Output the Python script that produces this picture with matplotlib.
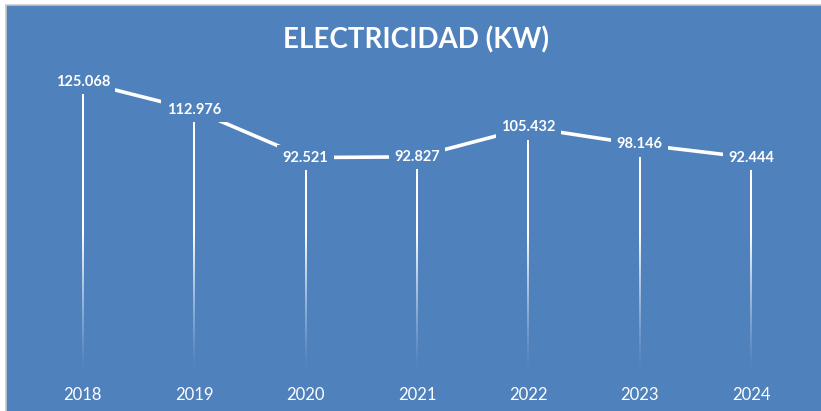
import numpy as np
import matplotlib.pyplot as plt
from matplotlib.patches import Rectangle

years = ['2018', '2019', '2020', '2021', '2022', '2023', '2024']
consumo = [125.068, 112.976, 92.521, 92.827, 105.432, 98.146, 92.444]
etiquetas = ['125.068', '112.976', '92.521', '92.827', '105.432', '98.146', '92.444']

azul = '#4F81BD'
plt.rcParams['font.family'] = ['Lato', 'DejaVu Sans']

fig = plt.figure(figsize=(8.21, 4.11), dpi=100, facecolor='white')
# fondo azul del area del grafico (con borde gris arriba/izq)
fig.patches.append(Rectangle((5.5/821, -0.01), 1.0, (411-5.5)/411 + 0.01,
                             transform=fig.transFigure, facecolor=azul,
                             edgecolor='#C8C8C8', linewidth=1.2, zorder=-5))

ax = fig.add_axes([27/821, 38/411, 780/821, 326/411])
ax.set_facecolor('none')
ax.set_zorder(1)
x = np.arange(len(years))

# lineas de caida con degradado (blanco -> transparente abajo)
w = 0.0085
for xi, v in zip(x, consumo):
    ys = np.linspace(v, 0, 300)
    grad = np.ones((300, 1, 4))
    grad[:, 0, 3] = np.clip(ys / 60.0, 0, 1) ** 1.3
    ax.imshow(grad, extent=(xi - w, xi + w, 0, v), aspect='auto',
              interpolation='bilinear', zorder=1)

ax.plot(x, consumo, color='white', linewidth=2.6, solid_capstyle='butt', zorder=2)

for xi, v, t in zip(x, consumo, etiquetas):
    ax.text(xi, v, t, ha='center', va='center', color='white', fontsize=10.5,
            fontweight='bold', zorder=3,
            bbox=dict(facecolor=azul, edgecolor='none', pad=4))

ax.set_xlim(-0.5, 6.5)
ax.set_ylim(0, 140)
ax.set_xticks(x)
ax.set_xticklabels(years, color='white', fontsize=12)
ax.tick_params(axis='x', length=0, pad=10)
ax.set_yticks([])
for s in ax.spines.values():
    s.set_visible(False)

fig.text(416/821, 1 - 40/411, 'ELECTRICIDAD (KW)', ha='center', va='center',
         color='white', fontsize=20, fontweight='bold')

plt.savefig('out.png', dpi=100, facecolor=fig.get_facecolor())
